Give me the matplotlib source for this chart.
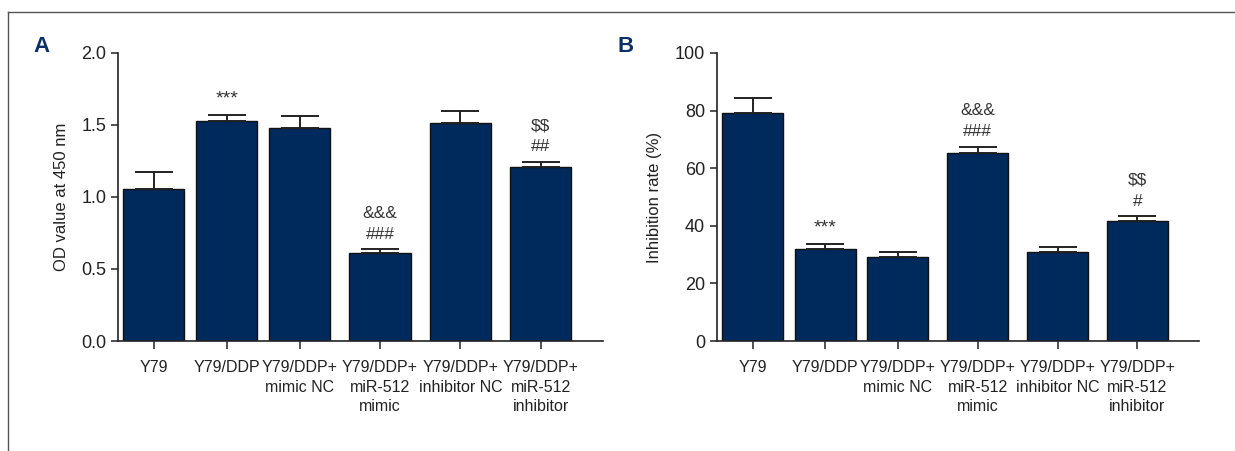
# -*- coding: utf-8 -*-
# Grafico de barras com dois paineis (A: OD a 450 nm, B: taxa de inibicao)
# salvo em out.png

import matplotlib
matplotlib.use("Agg")  # backend sem tela
import matplotlib.pyplot as plt
import matplotlib.ticker as mticker
from matplotlib.lines import Line2D

GRUPOS = [
    "Y79",
    "Y79/DDP",
    "Y79/DDP+\nmimic NC",
    "Y79/DDP+\nmiR-512\nmimic",
    "Y79/DDP+\ninhibitor NC",
    "Y79/DDP+\nmiR-512\ninhibitor",
]

# Painel A - OD value at 450 nm
OD_MEDIA = [1.055, 1.528, 1.482, 0.612, 1.514, 1.206]
OD_ERRO = [0.120, 0.042, 0.081, 0.026, 0.083, 0.039]
OD_MARCAS = [[], ["***"], [], ["###", "&&&"], [], ["##", "$$"]]

# Painel B - Inhibition rate (%)
INIB_MEDIA = [79.3, 32.0, 29.3, 65.2, 31.0, 41.7]
INIB_ERRO = [4.9, 1.6, 1.5, 2.3, 1.7, 1.7]
INIB_MARCAS = [[], ["***"], [], ["###", "&&&"], [], ["#", "$$"]]

COR_BARRA = "#002a5c"
COR_TEXTO = "#222222"
FONTE = ["Liberation Sans", "DejaVu Sans"]

# posicoes das barras (ha um pequeno espaco extra depois da terceira)
POSICOES = [0, 1, 2, 3.1, 4.2, 5.3]

plt.rcParams["font.family"] = FONTE


def desenhar_painel(ax, medias, erros, marcas, ymax, passo, rotulo_y, espaco_marca):
    ax.bar(POSICOES, medias, width=0.84, color=COR_BARRA,
           edgecolor="#111111", linewidth=1.0, zorder=2)
    ax.errorbar(POSICOES, medias, yerr=[[0] * len(erros), erros], fmt="none",
                ecolor="#222222", elinewidth=1.4, capsize=14, capthick=1.4, zorder=3)

    # marcas de significancia (empilhadas de baixo para cima)
    for x, m, e, simbolos in zip(POSICOES, medias, erros, marcas):
        y = m + e + espaco_marca * 0.35
        for s in simbolos:
            tam = 14 if s == "***" else 12.5
            ax.text(x, y, s, ha="center", va="bottom", fontsize=tam,
                    color="#333333", parse_math=False)
            y += espaco_marca

    ax.set_xlim(-0.49, 6.15)
    ax.set_ylim(0, ymax)
    ax.set_yticks([passo * i for i in range(int(round(ymax / passo)) + 1)])
    ax.set_xticks(POSICOES)
    ax.set_xticklabels(GRUPOS, fontsize=11.5, color=COR_TEXTO, linespacing=1.35)
    ax.set_ylabel(rotulo_y, fontsize=12, color=COR_TEXTO, labelpad=9)
    ax.tick_params(axis="y", labelsize=13, colors=COR_TEXTO, length=5, width=1.1)
    ax.tick_params(axis="x", length=6, width=1.1, colors=COR_TEXTO, pad=8)
    for lado in ["top", "right"]:
        ax.spines[lado].set_visible(False)
    for lado in ["left", "bottom"]:
        ax.spines[lado].set_linewidth(1.2)
        ax.spines[lado].set_color("#222222")


def main():
    fig = plt.figure(figsize=(12.35, 4.51), dpi=100)

    ax_a = fig.add_axes([0.0955, 0.2439, 0.3925, 0.6386])
    ax_b = fig.add_axes([0.5806, 0.2439, 0.3903, 0.6386])

    desenhar_painel(ax_a, OD_MEDIA, OD_ERRO, OD_MARCAS, 2.0, 0.5,
                    "OD value at 450 nm", 0.145)
    ax_a.yaxis.set_major_formatter(mticker.FormatStrFormatter("%.1f"))
    desenhar_painel(ax_b, INIB_MEDIA, INIB_ERRO, INIB_MARCAS, 100, 20,
                    "Inhibition rate (%)", 7.4)

    # letras dos paineis
    fig.text(0.0267, 1 - 52 / 451, "A", fontsize=16, fontweight="bold",
             color="#0d2f66", ha="left", va="baseline")
    fig.text(0.5000, 1 - 52 / 451, "B", fontsize=16, fontweight="bold",
             color="#0d2f66", ha="left", va="baseline")

    # moldura (linha superior e esquerda)
    fig.add_artist(Line2D([0.0065, 1.0], [1 - 12 / 451, 1 - 12 / 451],
                          transform=fig.transFigure, color="#555555", linewidth=1.0))
    fig.add_artist(Line2D([0.0065, 0.0065], [0, 1 - 12 / 451],
                          transform=fig.transFigure, color="#555555", linewidth=1.0))

    fig.savefig("out.png", dpi=100)
    plt.close(fig)


if __name__ == "__main__":
    main()
